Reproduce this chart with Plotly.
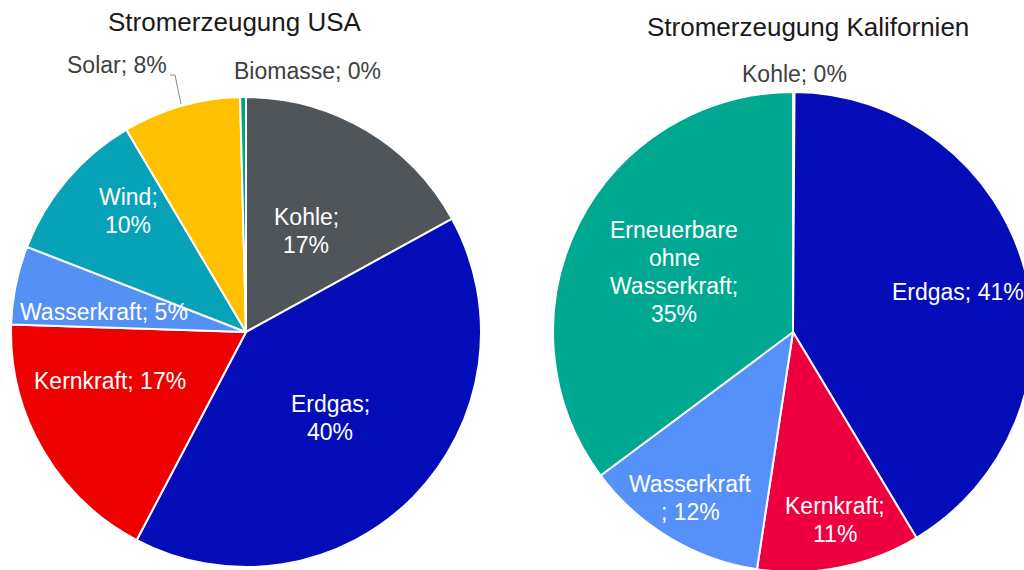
import plotly.graph_objects as go

# ---------------- data ----------------
usa_names = ["Kohle", "Erdgas", "Kernkraft", "Wasserkraft", "Wind", "Solar", "Biomasse"]
usa_values = [17.0, 40.7, 17.8, 5.4, 10.6, 8.1, 0.4]
usa_pct = ["17%", "40%", "17%", "5%", "10%", "8%", "0%"]

ca_names = ["Kohle", "Erdgas", "Kernkraft", "Wasserkraft", "Erneuerbare ohne Wasserkraft"]
ca_values = [0.1, 41.3, 11.0, 12.4, 35.2]
ca_pct = ["0%", "41%", "11%", "12%", "35%"]

usa_title = "Stromerzeugung USA"
ca_title = "Stromerzeugung Kalifornien"

# ---------------- styles ----------------
usa_colors = ["#50555A", "#050DB8", "#EE0000", "#5591F5", "#08A2B8", "#FFC000", "#00A38A"]
ca_colors = ["#808080", "#050DB8", "#EE0040", "#5591F8", "#00A891"]

W, H = 1040, 574
FONT = "Liberation Sans, Arial, sans-serif"
LINE = 28


def px(x):
    return x / W


def py(y):
    return 1 - y / H


# label placement (pixel centre of text block, wrap mode, inside/outside)
usa_label_layout = {
    "Kohle": dict(x=306, y=231, wrap="semi", inside=True),
    "Erdgas": dict(x=330, y=418, wrap="semi", inside=True),
    "Kernkraft": dict(x=110, y=381, wrap="none", inside=True),
    "Wasserkraft": dict(x=104, y=312, wrap="none", inside=True),
    "Wind": dict(x=128, y=211, wrap="semi", inside=True),
    "Solar": dict(x=117, y=65, wrap="none", inside=False),
    "Biomasse": dict(x=307, y=71, wrap="none", inside=False),
}
ca_label_layout = {
    "Kohle": dict(x=794, y=74, wrap="none", inside=False),
    "Erdgas": dict(x=958, y=292, wrap="none", inside=True),
    "Kernkraft": dict(x=835, y=520, wrap="semi", inside=True),
    "Wasserkraft": dict(x=690, y=498, wrap="before", inside=True),
    "Erneuerbare ohne Wasserkraft": dict(x=674, y=272, wrap="words", inside=True),
}


def label_lines(name, pct, wrap):
    if wrap == "none":
        return [f"{name}; {pct}"]
    if wrap == "semi":
        return [f"{name};", pct]
    if wrap == "before":
        return [name, f"; {pct}"]
    words = name.split(" ")
    words[-1] = words[-1] + ";"
    return words + [pct]


fig = go.Figure()

fig.add_trace(go.Pie(
    labels=usa_names, values=usa_values, sort=False, direction="clockwise",
    rotation=0, textinfo="none", hoverinfo="label+percent",
    marker=dict(colors=usa_colors, line=dict(color="white", width=2)),
    domain=dict(x=[px(11), px(481)], y=[py(567), py(97)]),
    showlegend=False,
))
fig.add_trace(go.Pie(
    labels=ca_names, values=ca_values, sort=False, direction="clockwise",
    rotation=0, textinfo="none", hoverinfo="label+percent",
    marker=dict(colors=ca_colors, line=dict(color="white", width=2)),
    domain=dict(x=[px(553), px(1033)], y=[py(572), py(92)]),
    showlegend=False,
))

annotations = []
for names, pcts, lay in ((usa_names, usa_pct, usa_label_layout), (ca_names, ca_pct, ca_label_layout)):
    for name, pct in zip(names, pcts):
        L = lay[name]
        lines = label_lines(name, pct, L["wrap"])
        n = len(lines)
        for i, t in enumerate(lines):
            yc = L["y"] + (i - (n - 1) / 2) * LINE
            annotations.append(dict(
                x=px(L["x"]), y=py(yc), xref="paper", yref="paper",
                text=t, showarrow=False, xanchor="center", yanchor="middle",
                font=dict(family=FONT, size=23,
                          color="white" if L["inside"] else "#404040"),
            ))

annotations.append(dict(x=px(235), y=py(22), xref="paper", yref="paper",
                        text=usa_title, showarrow=False, xanchor="center", yanchor="middle",
                        font=dict(family=FONT, size=26, color="#1a1a1a")))
annotations.append(dict(x=px(808), y=py(27), xref="paper", yref="paper",
                        text=ca_title, showarrow=False, xanchor="center", yanchor="middle",
                        font=dict(family=FONT, size=26, color="#1a1a1a")))

shapes = [dict(
    type="path", xref="paper", yref="paper",
    path=f"M {px(170)},{py(75)} L {px(175)},{py(75)} L {px(181)},{py(104)}",
    line=dict(color="#8c8c8c", width=1),
)]

fig.update_layout(
    width=W, height=H,
    margin=dict(l=0, r=0, t=0, b=0),
    paper_bgcolor="white", plot_bgcolor="white",
    annotations=annotations, shapes=shapes,
    font=dict(family=FONT),
)

fig.write_html(
    "out.html",
    config={"displayModeBar": False},
    post_script="document.body.style.margin='0';document.body.style.overflow='hidden';"
                "document.documentElement.style.overflow='hidden';",
)
